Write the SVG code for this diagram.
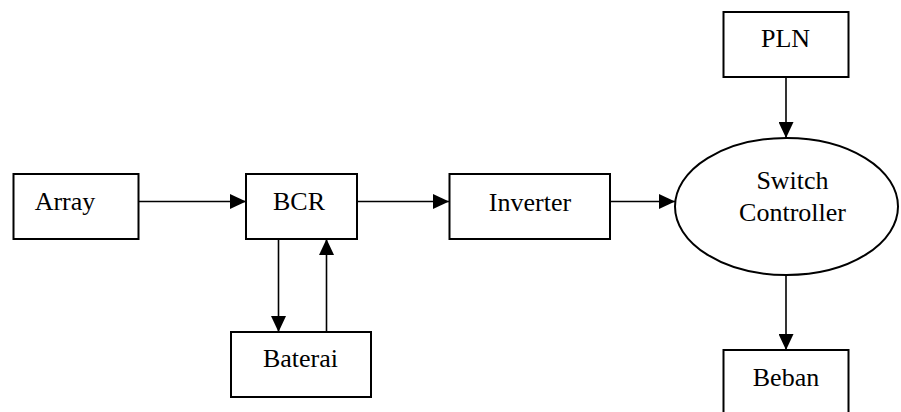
<svg xmlns="http://www.w3.org/2000/svg" width="901" height="412" viewBox="0 0 901 412">
<style>
.box{fill:#fff;stroke:#000;stroke-width:2}
.lbl{font-family:"Liberation Serif","Times New Roman",serif;font-size:26px;fill:#000;text-anchor:middle}
.conn{stroke:#000;stroke-width:1.6;fill:none;marker-end:url(#ah)}
</style>
<defs>
<marker id="ah" markerUnits="userSpaceOnUse" markerWidth="16" markerHeight="15" refX="16" refY="7.5" orient="auto">
<path d="M0,0 L16,7.5 L0,15 z" fill="#000"/>
</marker>
</defs>
<rect width="901" height="412" fill="#fff"/>
<g id="connectors">
<line class="conn" x1="138" y1="201.5" x2="246" y2="201.5"/>
<line class="conn" x1="357" y1="201.5" x2="449" y2="201.5"/>
<line class="conn" x1="610" y1="201.5" x2="675" y2="201.5"/>
<line class="conn" x1="278.5" y1="239" x2="278.5" y2="332"/>
<line class="conn" x1="326.5" y1="332" x2="326.5" y2="239"/>
<line class="conn" x1="786" y1="77" x2="786" y2="138"/>
<line class="conn" x1="786" y1="275" x2="786" y2="350"/>
</g>
<g id="array">
<rect class="box" x="13.5" y="174" width="125" height="65"/>
<text class="lbl" x="65" y="210">Array</text>
</g>
<g id="bcr">
<rect class="box" x="246" y="174" width="111" height="65"/>
<text class="lbl" x="299" y="210">BCR</text>
</g>
<g id="baterai">
<rect class="box" x="231" y="332" width="140" height="65"/>
<text class="lbl" x="300.5" y="366.5">Baterai</text>
</g>
<g id="inverter">
<rect class="box" x="449.5" y="174" width="160.5" height="65"/>
<text class="lbl" x="530" y="210.5">Inverter</text>
</g>
<g id="switch-controller">
<ellipse class="box" cx="786.5" cy="206.5" rx="111.5" ry="68.5"/>
<text class="lbl" x="792.5" y="189">Switch</text>
<text class="lbl" x="792.5" y="221">Controller</text>
</g>
<g id="pln">
<rect class="box" x="723.5" y="12" width="125" height="65"/>
<text class="lbl" x="785.5" y="46.5">PLN</text>
</g>
<g id="beban">
<rect class="box" x="723.5" y="350" width="125" height="70"/>
<text class="lbl" x="786" y="386">Beban</text>
</g>
</svg>
